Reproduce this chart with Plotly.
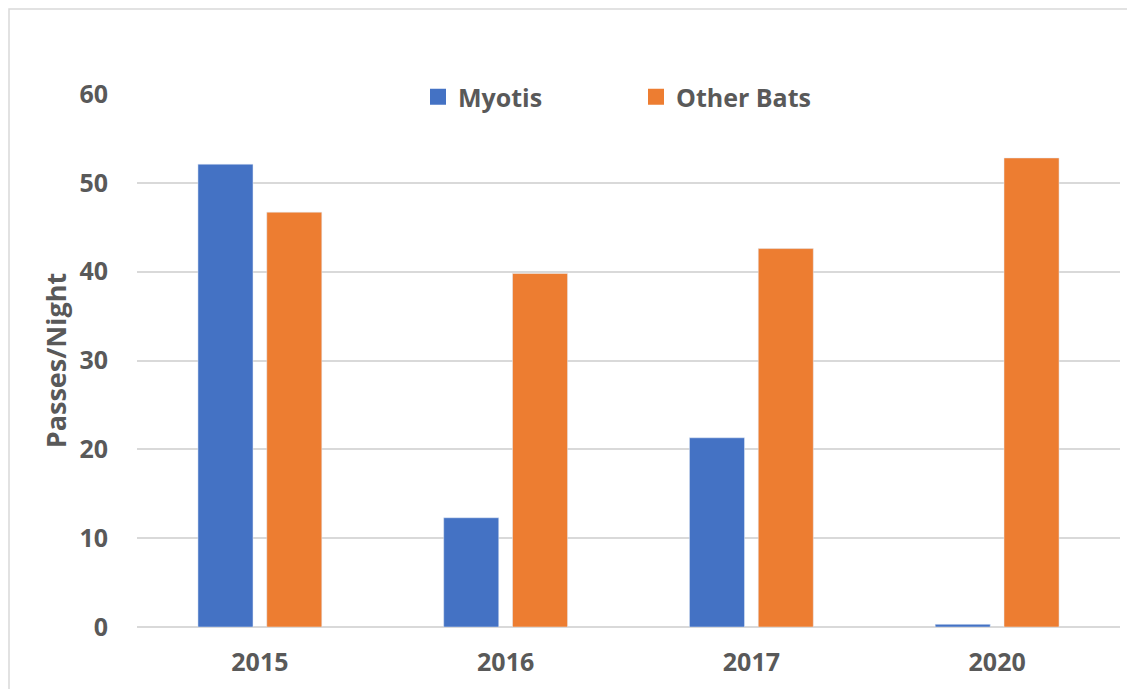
import plotly.graph_objects as go

years = ["2015", "2016", "2017", "2020"]
myotis = [52.1, 12.3, 21.3, 0.3]
other_bats = [46.7, 39.8, 42.6, 52.8]
y_ticks = [0, 10, 20, 30, 40, 50, 60]
series_names = ["Myotis", "Other Bats"]
series_colors = ["#4472C4", "#ED7D31"]

font_family = "Open Sans, Noto Sans, sans-serif"
text_color = "#595959"

L, R, T, B = 129, 23, 86, 70
W, H = 1135, 689
PW, PH = W - L - R, H - T - B

fig = go.Figure()
for name, vals, col in zip(series_names, [myotis, other_bats], series_colors):
    fig.add_trace(go.Bar(name=name, x=years, y=vals, marker_color=col, showlegend=False))
# legend entries with larger square swatches
for name, col in zip(series_names, series_colors):
    fig.add_trace(go.Scatter(name=name, x=[None], y=[None], mode="markers",
                             marker=dict(symbol="square", size=16, color=col)))

fig.update_layout(
    width=W, height=H,
    paper_bgcolor="white", plot_bgcolor="white",
    margin=dict(l=L, r=R, t=T, b=B),
    barmode="group", bargap=0.44, bargroupgap=0.2,
    font=dict(family=font_family, color=text_color, size=25),
    legend=dict(orientation="h", x=(418 - L - 8) / PW, xanchor="left",
                y=1 - 3 / PH, yanchor="middle",
                bgcolor="rgba(0,0,0,0)", entrywidth=173, itemwidth=30,
                font=dict(family=font_family, size=25, color=text_color, weight="bold")),
    xaxis=dict(showline=False, ticks="", tickfont=dict(weight="bold", size=25),
               showgrid=False, automargin=False, ticklabelstandoff=18),
    yaxis=dict(range=[0, 60], tickvals=y_ticks, showgrid=True, gridcolor="#D9D9D9",
               gridwidth=1.5, zeroline=True, zerolinecolor="#D9D9D9", zerolinewidth=1.5,
               ticks="", ticklabelstandoff=28, automargin=True,
               tickfont=dict(weight="bold", size=25),
               title=dict(text="Passes/Night", standoff=4,
                          font=dict(weight="bold", size=27))),
    shapes=[dict(type="rect", xref="paper", yref="paper",
                 x0=-(L - 1) / PW, x1=(W + 20 - L) / PW, y0=-1.0, y1=1 + (T - 1) / PH,
                 line=dict(color="#D9D9D9", width=1.5), fillcolor="rgba(0,0,0,0)",
                 layer="below")],
)

fig.write_html("out.html")
